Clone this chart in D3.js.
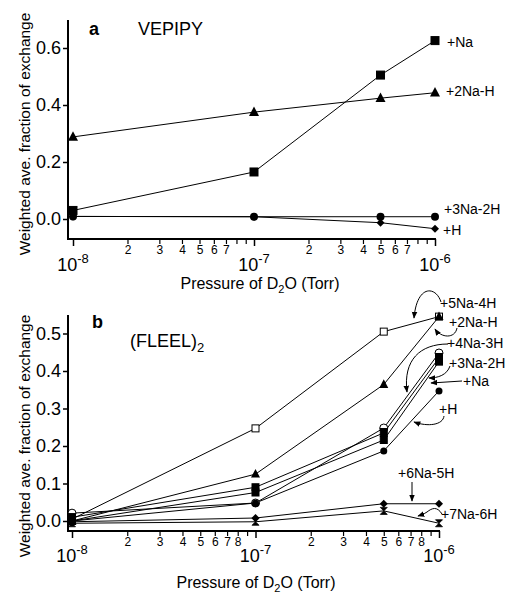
<!DOCTYPE html>
<html><head><meta charset="utf-8">
<script src="https://cdn.jsdelivr.net/npm/d3@7"></script>
<style>
body{margin:0;background:#fff;}
text{font-family:"Liberation Sans",Arial,sans-serif;fill:#000;}
</style></head>
<body>
<svg id="c" width="509" height="602"></svg>
<script>
// ---------- DATA ----------
const pressures = [1e-8, 1e-7, 5e-7, 1e-6];

// Panel a: VEPIPY
const aNames   = ["+Na", "+2Na-H", "+3Na-2H", "+H"];
const aNa      = [0.03, 0.165, 0.505, 0.626];
const a2NaH    = [0.288, 0.375, 0.424, 0.443];
const a3Na2H   = [0.009, 0.008, 0.008, 0.008];
const aH       = [0.009, 0.008, -0.013, -0.034];

// Panel b: (FLEEL)2
const bNames   = ["+5Na-4H", "+2Na-H", "+4Na-3H", "+3Na-2H", "+Na", "+H", "+6Na-5H", "+7Na-6H"];
const b5Na4H   = [0.005, 0.247, 0.505, 0.545];
const b2NaH    = [0.0, 0.125, 0.364, 0.545];
const b4Na3H   = [0.021, 0.048, 0.248, 0.448];
const b3Na2H   = [0.01, 0.09, 0.235, 0.435];
const bNa      = [0.0, 0.076, 0.216, 0.425];
const bH       = [0.0, 0.048, 0.187, 0.347];
const b6Na5H   = [-0.002, 0.008, 0.046, 0.046];
const b7Na6H   = [-0.006, -0.002, 0.027, -0.006];

const yTicksA = [0, 0.2, 0.4, 0.6];
const yTicksB = [0, 0.1, 0.2, 0.3, 0.4, 0.5];
const majorX  = [1e-8, 1e-7, 1e-6];
const minorLabelsA = [2, 3, 4, 5, 6, 7];
const minorLabelsB = [2, 3, 4, 5, 6, 7, 8];

// ---------- DRAW ----------
const svg = d3.select("#c");
const FONT = '"Liberation Sans",Arial,sans-serif';

svg.append("defs").append("marker")
  .attr("id","ah").attr("viewBox","0 0 10 10").attr("refX",9).attr("refY",5)
  .attr("markerWidth",7).attr("markerHeight",7).attr("orient","auto-start-reverse")
  .attr("markerUnits","userSpaceOnUse")
  .append("path").attr("d","M0,1 L10,5 L0,9 Z").attr("fill","#000");

function bowtie(s){ const h=s/2; return `M${-h},${-h}L${h},${h}L${h},${-h}L${-h},${h}Z`; }

function drawMarker(g, type, cx, cy, s){
  if(type==="sqF"||type==="sqO"){
    g.append("rect").attr("x",cx-s/2).attr("y",cy-s/2).attr("width",s).attr("height",s)
      .attr("fill", type==="sqF"?"#000":"#fff").attr("stroke","#000").attr("stroke-width",1);
  } else if(type==="tri"){
    const h=s*0.95;
    g.append("path").attr("d",`M${cx},${cy-h*0.6}L${cx+s/2},${cy+h*0.4}L${cx-s/2},${cy+h*0.4}Z`).attr("fill","#000");
  } else if(type==="cir"){
    g.append("circle").attr("cx",cx).attr("cy",cy).attr("r",s/2).attr("fill","#000");
  } else if(type==="half"){
    const r=s/2;
    g.append("circle").attr("cx",cx).attr("cy",cy).attr("r",r).attr("fill","#fff").attr("stroke","#000").attr("stroke-width",1);
    g.append("path").attr("d",`M${cx-r},${cy}A${r},${r} 0 0 0 ${cx+r},${cy}Z`).attr("fill","#000");
  } else if(type==="dia"){
    const r=s/2;
    g.append("path").attr("d",`M${cx},${cy-r}L${cx+r},${cy}L${cx},${cy+r}L${cx-r},${cy}Z`).attr("fill","#000");
  } else if(type==="bow"){
    g.append("path").attr("transform",`translate(${cx},${cy}) rotate(90)`).attr("d",bowtie(s)).attr("fill","#000").attr("stroke","#000").attr("stroke-width",0.8);
  }
}

function panel(cfg){
  const g = svg.append("g");
  const x = d3.scaleLog().domain([1e-8,1e-6]).range(cfg.xr);
  const y = d3.scaleLinear().domain(cfg.yd).range(cfg.yr);
  g.append("line").attr("x1",cfg.axX).attr("x2",cfg.axX).attr("y1",cfg.axTop).attr("y2",cfg.axBot)
    .attr("stroke","#000").attr("stroke-width",2);
  g.append("line").attr("x1",cfg.axX-1).attr("x2",x(1e-6)+1).attr("y1",cfg.axBot).attr("y2",cfg.axBot)
    .attr("stroke","#000").attr("stroke-width",2);
  const ya = g.append("g").attr("transform",`translate(${cfg.axX},0)`)
    .call(d3.axisLeft(y).tickValues(cfg.yTicks).tickSize(5).tickPadding(2).tickFormat(d3.format(".1f")));
  ya.select(".domain").remove();
  ya.selectAll("line").attr("stroke-width",1.5);
  ya.selectAll("text").style("font-family",FONT).style("font-size","18px");
  const minors=[];
  [1e-8,1e-7].forEach(d=>{for(let k=2;k<=9;k++) minors.push(d*k);});
  const xm = g.append("g").attr("transform",`translate(0,${cfg.axBot})`)
    .call(d3.axisBottom(x).tickValues(minors).tickSize(5).tickPadding(1)
      .tickFormat(d=>{const k=Math.round(d/Math.pow(10,Math.floor(Math.log10(d)+1e-9))); return cfg.minorLabels.includes(k)?String(k):"";}));
  xm.select(".domain").remove();
  xm.selectAll("line").attr("stroke-width",1.2);
  xm.selectAll("text").style("font-family",FONT).style("font-size","12px");
  const xM = g.append("g").attr("transform",`translate(0,${cfg.axBot})`)
    .call(d3.axisBottom(x).tickValues(majorX).tickSize(7).tickFormat(""));
  xM.select(".domain").remove();
  xM.selectAll("line").attr("stroke-width",1.5);
  majorX.forEach(d=>{
    const t=g.append("text").attr("x",x(d)).attr("y",cfg.axBot+cfg.majorDy).attr("text-anchor","middle")
      .style("font-size","18px");
    t.append("tspan").text("10");
    t.append("tspan").attr("dy",-8).style("font-size","13px").text(String(Math.round(Math.log10(d))));
  });
  const xt=g.append("text").attr("x",cfg.xtX).attr("y",cfg.xtY).attr("text-anchor","middle").style("font-size","16px");
  xt.append("tspan").text("Pressure of D");
  xt.append("tspan").attr("dy",4).style("font-size","11px").text("2");
  xt.append("tspan").attr("dy",-4).text("O (Torr)");
  g.append("text").attr("transform",`translate(30,${cfg.ytY}) rotate(-90)`).attr("text-anchor","middle")
    .style("font-size","15.5px").text("Weighted ave. fraction of exchange");
  const line=d3.line().x((d,i)=>x(pressures[i])).y(d=>y(d));
  cfg.series.forEach(s=>{
    g.append("path").attr("d",line(s.v)).attr("fill","none").attr("stroke","#000").attr("stroke-width",1);
  });
  cfg.series.forEach(s=>{
    s.v.forEach((v,i)=>drawMarker(g,s.m,x(pressures[i]),y(v),s.s));
  });
  return {g,x,y};
}

// Panel a
const pa = panel({
  xr:[73,435], yd:[0,0.6], yr:[219,48], axX:68, axTop:20, axBot:239,
  yTicks:yTicksA, minorLabels:minorLabelsA, majorDy:32, xtX:260, xtY:289, ytY:134,
  series:[
    {v:aNa, m:"sqF", s:8},
    {v:a2NaH, m:"tri", s:10},
    {v:a3Na2H, m:"cir", s:8},
    {v:aH, m:"dia", s:8},
  ]
});
pa.g.append("text").attr("x",89).attr("y",35).style("font-size","18px").style("font-weight","bold").text("a");
pa.g.append("text").attr("x",138).attr("y",35).style("font-size","18px").text("VEPIPY");
const laby=[47,96,214,235];
aNames.forEach((n,i)=>{
  pa.g.append("text").attr("x",[447,446,444,443][i]).attr("y",laby[i]).style("font-size","14px").text(n);
});

// Panel b
const pb = panel({
  xr:[72,439], yd:[0,0.5], yr:[521,333.5], axX:68, axTop:315, axBot:531,
  yTicks:yTicksB, minorLabels:minorLabelsB, majorDy:31, xtX:256, xtY:588, ytY:436,
  series:[
    {v:b5Na4H, m:"sqO", s:7},
    {v:b2NaH, m:"tri", s:9},
    {v:b4Na3H, m:"half", s:8},
    {v:b3Na2H, m:"sqF", s:7},
    {v:bNa, m:"sqF", s:7},
    {v:bH, m:"cir", s:7},
    {v:b6Na5H, m:"dia", s:8},
    {v:b7Na6H, m:"bow", s:7},
  ]
});
pb.g.append("text").attr("x",92).attr("y",328).style("font-size","18px").style("font-weight","bold").text("b");
const ft=pb.g.append("text").attr("x",130).attr("y",347).style("font-size","18px");
ft.append("tspan").text("(FLEEL)");
ft.append("tspan").attr("dy",5).style("font-size","13px").text("2");

const bLab = [[440,308],[449,327],[447,348],[449,368],[463,386],[439,414],[398,478],[441,519]];
bNames.forEach((n,i)=>{
  pb.g.append("text").attr("x",bLab[i][0]).attr("y",bLab[i][1]).style("font-size","14px").text(n);
});
const arrows = [
  "M441,302 C436,286 417,284 414,318",
  "M457,328 C455,339 441,338 435,329",
  "M448,344 C420,344 403,360 407,392",
  "M450,366 C447,375 438,378 429,378",
  "M462,381 L431,383",
  "M444,416 C443,425 428,427 414,422",
  "M412,482 L412,501",
  "M442,514 C437,506 432,508 427,512 C424,514 421,515 418,516"
];
arrows.forEach(d=>{
  pb.g.append("path").attr("d",d).attr("fill","none").attr("stroke","#000").attr("stroke-width",1).attr("marker-end","url(#ah)");
});
</script>
</body></html>
